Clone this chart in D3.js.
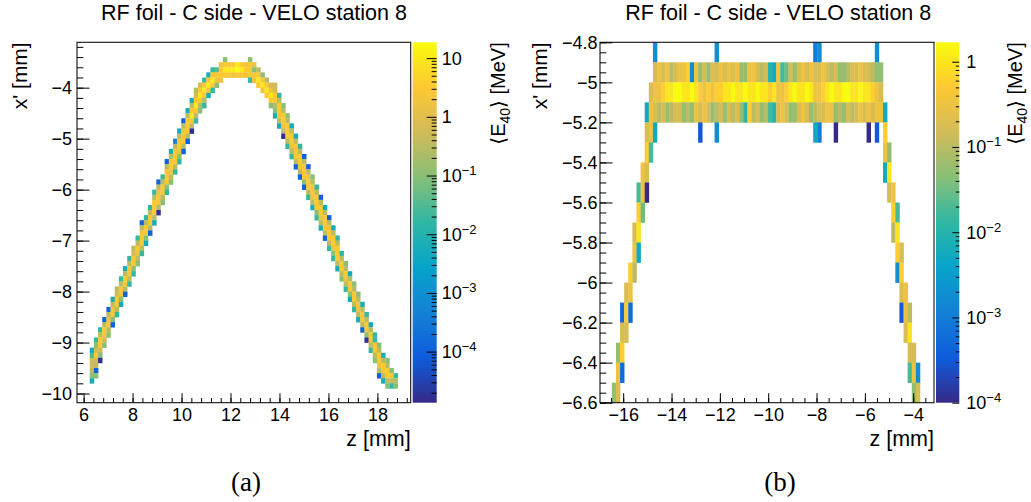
<!DOCTYPE html>
<html>
<head>
<meta charset="utf-8">
<script src="https://cdn.jsdelivr.net/npm/d3@7"></script>
<style>
  body { margin: 0; background: #fff; }
  svg { display: block; font-family: "Liberation Sans", Arial, "DejaVu Sans", sans-serif; }
</style>
</head>
<body>
<svg id="chart" width="1031" height="502"></svg>
<script>
'use strict';

// ---------------- data ----------------
var plotTitle = "RF foil - C side - VELO station 8";
// one letter per bin: letter index i  ->  <E40> = 10^(-5 + i/4) MeV, "." = empty bin
var codeLetters = "abcdefghijklmnopqrstuvwxyz";

// (a): bins of 0.17 mm in z starting at 6.25 mm, 0.1 mm in x' going down from -3.4 mm
var leftZBins = { start: 6.25, width: 0.17 };
var leftXBins = { start: -3.4, width: 0.1 };
// first filled x' row of every z column, then the column's bins from top to bottom
var leftColumnTop = [57, 55, 53, 51, 49, 47, 45, 43, 41, 39,
                     37, 35, 32, 31, 29, 26, 24, 23, 20, 18,
                     16, 14, 12, 10, 8, 6, 5, 4, 3, 2,
                     2, 1, 0, 1, 1, 1, 1, 1, 0, 1,
                     2, 3, 4, 5, 5, 7, 9, 11, 13, 15,
                     17, 19, 21, 23, 25, 27, 29, 31, 33, 35,
                     38, 40, 42, 44, 46, 48, 50, 52, 54, 56,
                     58, 59, 61, 62];
var leftColumnCells = ["lottsql", "nqtwtseq", "nswwtqb", "eswwtq", "esvwsq", "lswwqe", "stwwsn", "nswvql", "lswwse", "nswwsn",
                       "stwwqn", "nswvsq", "esvwwsn", "nswwql", "nswwse", "nswwwsl", "esvwwsb", "nswwsq", "esvwwqn", "lswwvsq",
                       "hswwwsn", "lswwvqn", "esvwwse", "lswwwse", "lswywsb", "stwywsn", "twywsq", "nwywsn", "lwywl", "nwywn",
                       "owvq", "vwwv", "qwyw", "wyw", "wyv", "yzw", "wyw", "vwv", "qwwwn", "vqwv",
                       "swyw", "qwyv", "swyw", "tvywq", "ttwwsql", "nswwwsl", "qswwvsb", "qswwwsn", "lswwvsn", "lswwwse",
                       "nswwvse", "eswwwqe", "esvwwsn", "qswwvsl", "nswwwqn", "eswwvsl", "lswwwse", "esvwwsn", "lswwvqn", "nswwwsl",
                       "nswwsq", "qswvsn", "lswwql", "qswwsn", "qswvsl", "lswwse", "nswwqb", "lswwsn", "nnwwsq", "qswwvse",
                       "lswwsl", "qswwsq", "qwsn", "nsq"];
var leftZRange = [5.73, 19.36];
var leftXRange = [-10.18, -3.11];
var leftZTicks = [6, 8, 10, 12, 14, 16, 18];
var leftXTicks = [-10, -9, -8, -7, -6, -5, -4];
var leftColorRange = [1.35e-5, 18.6];
var leftColorTicks = [1e-4, 1e-3, 1e-2, 1e-1, 1, 10];

// (b): bins of 0.17 mm in z starting at -16.47 mm, 0.1 mm in x' going down from -4.8 mm
var rightZBins = { start: -16.47, width: 0.17 };
var rightXBins = { start: -4.8, width: 0.1 };
// [x' row, first z column, bins]
var rightRuns = [
  [0, 10, "j"], [0, 25, "j"], [0, 49, "ij"], [0, 64, "j"],
  [1, 10, ["rsrsqrsstj", "sprprrsrsr", "sppssrqrml", "snorprsrsr", "rsrqrppqrr", "srrqpp"].join("")],
  [2, 9, ["rsst", "uuvvuuvu", "tsts", "ttu", "uvuuvuuvuutu", "sst", "uvuuvu", "sst", "uvuuvvuuvuut", "sr"].join("")],
  [3, 8, ["ls", "rqrpqrrpqp", "srsrpqrprq", "rpmtqrpqnm", "rsrpprsrpq", "rrsspqprqr", "srsrssl"].join("")],
  [4, 8, "rsl"], [4, 21, "g"], [4, 25, "j"], [4, 49, "li"], [4, 54, "e"], [4, 62, "e"], [4, 64, "g"], [4, 66, "t"],
  [5, 8, "tn"], [5, 66, "sp"],
  [6, 7, "sr"], [6, 66, "lu"],
  [7, 6, "nse"], [7, 67, "rs"],
  [8, 6, "to"], [8, 68, "tn"],
  [9, 5, "ru"], [9, 68, "qu"],
  [10, 5, "sl"], [10, 69, "tr"],
  [11, 4, "tq"], [11, 69, "jt"],
  [12, 3, "rs"], [12, 70, "rs"],
  [13, 2, "hth"], [13, 70, "gsq"],
  [14, 2, "rr"], [14, 71, "ru"],
  [15, 1, "pt"], [15, 72, "rr"],
  [16, 1, "sh"], [16, 72, "nsj"],
  [17, 0, "pr"], [17, 73, "pr"]
];
var rightZRange = [-16.96, -3.14];
var rightXRange = [-6.6, -4.8];
var rightZTicks = [-16, -14, -12, -10, -8, -6, -4];
var rightXTicks = [-6.6, -6.4, -6.2, -6, -5.8, -5.6, -5.4, -5.2, -5, -4.8];
var rightColorRange = [1e-4, 1.69];
var rightColorTicks = [1e-4, 1e-3, 1e-2, 1e-1, 1];

// ROOT kBird palette
var birdColors = ["rgb(53,42,135)", "rgb(15,92,221)", "rgb(20,129,214)", "rgb(6,164,202)", "rgb(46,183,164)",
                  "rgb(135,191,119)", "rgb(209,187,89)", "rgb(254,200,50)", "rgb(249,251,14)"];

// ---------------- helpers ----------------
var svg = d3.select("#chart");
var MINUS = "\u2212";

function codeValue(ch) {
    return Math.pow(10, -5 + codeLetters.indexOf(ch) / 4);
}

function columnCells(tops, strings) {
    var cells = [];
    strings.forEach(function (s, c) {
        s.split("").forEach(function (ch, i) {
            if (ch !== ".") cells.push({ col: c, row: tops[c] + i, value: codeValue(ch) });
        });
    });
    return cells;
}

function runCells(runs) {
    var cells = [];
    runs.forEach(function (run) {
        run[2].split("").forEach(function (ch, i) {
            if (ch !== ".") cells.push({ col: run[1] + i, row: run[0], value: codeValue(ch) });
        });
    });
    return cells;
}

var birdScale = d3.scaleLinear()
    .domain(birdColors.map(function (c, i) { return i / (birdColors.length - 1); }))
    .range(birdColors)
    .interpolate(d3.interpolateRgb)
    .clamp(true);

function makeColor(range) {
    var t = d3.scaleLog().domain(range).range([0, 1]).clamp(true);
    return function (v) { return birdScale(t(v)); };
}

function fmt(v) {
    return (v < 0 ? MINUS : "") + d3.format("~g")(Math.abs(v));
}

function minorTicks(range, step) {
    var lo = Math.min(range[0], range[1]);
    var hi = Math.max(range[0], range[1]);
    var out = [];
    for (var k = Math.ceil(lo / step - 1e-6); k * step <= hi + 1e-9; k++) {
        out.push(+(k * step).toFixed(4));
    }
    return out;
}

function logMinorTicks(range) {
    var out = [];
    for (var e = Math.floor(Math.log10(range[0])); e <= Math.ceil(Math.log10(range[1])); e++) {
        for (var m = 2; m <= 9; m++) {
            var v = m * Math.pow(10, e);
            if (v >= range[0] && v <= range[1]) out.push(v);
        }
    }
    return out;
}

function cleanAxis(sel) {
    sel.select(".domain").remove();
    sel.attr("font-size", null).attr("font-family", null);
}

function powerLabel(sel, v) {
    var e = Math.round(Math.log10(v));
    if (e === 0) { sel.text("1"); return; }
    if (e === 1) { sel.text("10"); return; }
    sel.text("10");
    sel.append("tspan").attr("dy", -7).attr("font-size", 13).text(MINUS + Math.abs(e));
}

// ---------------- one panel ----------------
function drawPanel(p) {
    var fr = p.frame;
    var g = svg.append("g");
    var zScale = d3.scaleLinear().domain(p.zRange).range([fr.left, fr.right]);
    var xScale = d3.scaleLinear().domain(p.xRange).range([fr.bottom, fr.top]);
    var color = makeColor(p.colorRange);

    function zEdge(c) { return zScale(p.zBins.start + c * p.zBins.width); }
    function xEdge(r) { return xScale(p.xBins.start - r * p.xBins.width); }

    g.append("g").selectAll("rect").data(p.cells).enter().append("rect")
        .attr("x", function (d) { return zEdge(d.col); })
        .attr("y", function (d) { return xEdge(d.row); })
        .attr("width", function (d) { return zEdge(d.col + 1) - zEdge(d.col) + 0.3; })
        .attr("height", function (d) { return xEdge(d.row + 1) - xEdge(d.row) + 0.3; })
        .attr("fill", function (d) { return color(d.value); });

    // frame
    g.append("rect")
        .attr("x", fr.left).attr("y", fr.top)
        .attr("width", fr.right - fr.left).attr("height", fr.bottom - fr.top)
        .attr("fill", "none").attr("stroke", "#111").attr("stroke-width", 1.1);

    // axes, ticks inside the frame
    var bottom = g.append("g").attr("transform", "translate(0," + fr.bottom + ")").attr("font-size", 18);
    bottom.append("g")
        .call(d3.axisBottom(zScale).tickValues(p.zMinor).tickSize(-4.7).tickFormat(""))
        .call(cleanAxis);
    bottom.append("g")
        .call(d3.axisBottom(zScale).tickValues(p.zTicks).tickSize(-9.5).tickPadding(6).tickFormat(fmt))
        .call(cleanAxis);

    var left = g.append("g").attr("transform", "translate(" + fr.left + ",0)").attr("font-size", 18);
    left.append("g")
        .call(d3.axisLeft(xScale).tickValues(p.xMinor).tickSize(-6.3).tickFormat(""))
        .call(cleanAxis);
    left.append("g")
        .call(d3.axisLeft(xScale).tickValues(p.xTicks).tickSize(-12.5).tickPadding(p.yLabelPad).tickFormat(fmt))
        .call(cleanAxis);

    // colour bar
    var cb = p.colorBar;
    var cbScale = d3.scaleLog().domain(p.colorRange).range([fr.bottom, fr.top]);
    var gradId = "grad" + p.id;
    var grad = svg.append("defs").append("linearGradient")
        .attr("id", gradId).attr("x1", 0).attr("y1", 1).attr("x2", 0).attr("y2", 0);
    grad.selectAll("stop").data(birdColors).enter().append("stop")
        .attr("offset", function (c, i) { return i / (birdColors.length - 1); })
        .attr("stop-color", function (c) { return c; });
    g.append("rect")
        .attr("x", cb.left).attr("y", fr.top)
        .attr("width", cb.right - cb.left).attr("height", fr.bottom - fr.top)
        .attr("fill", "url(#" + gradId + ")");

    var cbAxis = g.append("g").attr("transform", "translate(" + cb.right + ",0)");
    cbAxis.append("g")
        .call(d3.axisRight(cbScale).tickValues(logMinorTicks(p.colorRange)).tickSize(-cb.minor).tickFormat(""))
        .call(cleanAxis);
    cbAxis.append("g")
        .call(d3.axisRight(cbScale).tickValues(p.colorTicks).tickSize(-cb.major).tickFormat(""))
        .call(cleanAxis);

    g.append("g").selectAll("text").data(p.colorTicks).enter().append("text")
        .attr("x", cb.right + cb.labelPad)
        .attr("y", function (v) { return cbScale(v); })
        .attr("dy", "0.36em")
        .attr("font-size", 18)
        .each(function (v) { powerLabel(d3.select(this), v); });

    // titles
    g.append("text")
        .attr("x", p.titleX).attr("y", 19.5)
        .attr("text-anchor", "middle").attr("font-size", 21.5)
        .text(plotTitle);

    g.append("text")
        .attr("x", fr.right).attr("y", 446)
        .attr("text-anchor", "end").attr("font-size", 21.5)
        .text("z [mm]");

    g.append("text")
        .attr("transform", "translate(" + p.yTitleX + "," + fr.top + ") rotate(-90)")
        .attr("text-anchor", "end").attr("font-size", 21)
        .text("x' [mm]");

    var ct = g.append("text")
        .attr("transform", "translate(" + cb.titleX + "," + fr.top + ") rotate(-90)")
        .attr("text-anchor", "end").attr("font-size", 20);
    ct.append("tspan").text("\u27E8E");
    ct.append("tspan").attr("font-size", 14).attr("dy", 5).text("40");
    ct.append("tspan").attr("dy", -5).text("\u27E9 [MeV]");

    svg.append("text")
        .attr("x", p.tagX).attr("y", 491)
        .attr("text-anchor", "middle")
        .attr("font-family", "'Liberation Serif', 'DejaVu Serif', serif")
        .attr("font-size", 27)
        .text(p.tag);
}

drawPanel({
    id: "a",
    frame: { left: 77, top: 42.3, right: 410.7, bottom: 402.7 },
    zRange: leftZRange, xRange: leftXRange,
    zBins: leftZBins, xBins: leftXBins,
    cells: columnCells(leftColumnTop, leftColumnCells),
    zTicks: leftZTicks, zMinor: minorTicks(leftZRange, 0.4),
    xTicks: leftXTicks, xMinor: minorTicks(leftXRange, 0.2),
    yLabelPad: 5,
    colorRange: leftColorRange, colorTicks: leftColorTicks,
    colorBar: { left: 412.7, right: 436.7, major: 10, minor: 5, labelPad: 5, titleX: 504.5 },
    titleX: 254, yTitleX: 26.7,
    tag: "(a)", tagX: 246
});

drawPanel({
    id: "b",
    frame: { left: 600, top: 42.3, right: 934, bottom: 402.7 },
    zRange: rightZRange, xRange: rightXRange,
    zBins: rightZBins, xBins: rightXBins,
    cells: runCells(rightRuns),
    zTicks: rightZTicks, zMinor: minorTicks(rightZRange, 0.5),
    xTicks: rightXTicks, xMinor: minorTicks(rightXRange, 0.05),
    yLabelPad: 2.5,
    colorRange: rightColorRange, colorTicks: rightColorTicks,
    colorBar: { left: 936, right: 959.3, major: 7, minor: 3.5, labelPad: 7, titleX: 1022 },
    titleX: 778.3, yTitleX: 546.7,
    tag: "(b)", tagX: 780
});
</script>
</body>
</html>
